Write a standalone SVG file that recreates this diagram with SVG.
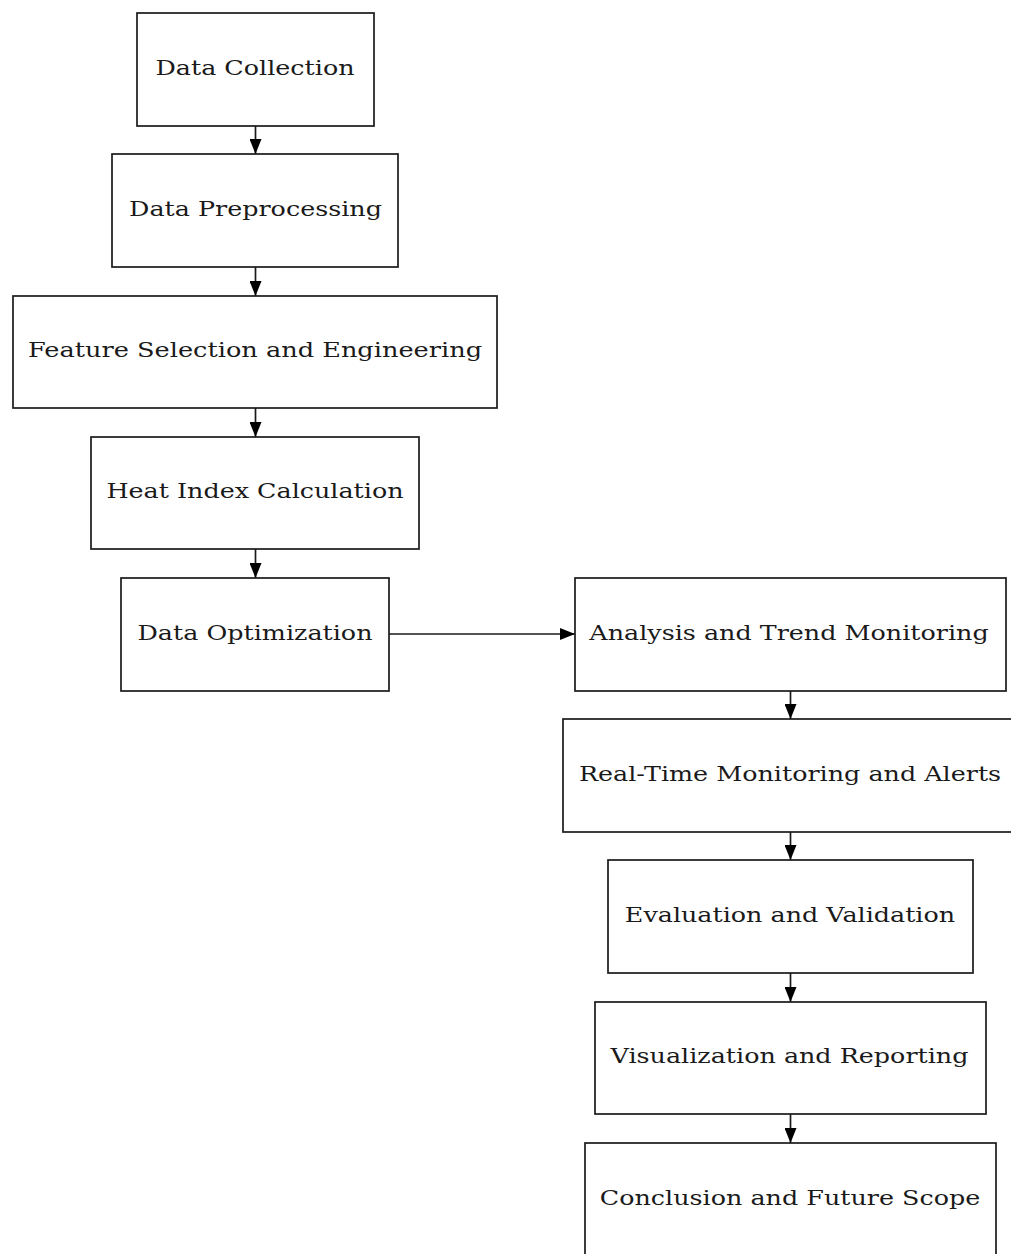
<svg xmlns="http://www.w3.org/2000/svg" width="1011" height="1254" viewBox="0 0 1011 1254">
<style>
.box{fill:#fff;stroke:#1a1a1a;stroke-width:1.7}
.lbl{font-family:"DejaVu Serif",serif;font-size:21px;fill:#1a1a1a;text-anchor:middle}
.edge{stroke:#1a1a1a;stroke-width:1.7;fill:none}
</style>
<defs>
<marker id="ah" markerWidth="15" markerHeight="12" refX="15" refY="6" orient="auto" markerUnits="userSpaceOnUse">
<path d="M0,0 L15,6 L0,12 Z" fill="#000"/>
</marker>
</defs>
<rect width="1011" height="1254" fill="#fff"/>
<g id="edges">
<line class="edge" x1="255.5" y1="126" x2="255.5" y2="154" marker-end="url(#ah)"/>
<line class="edge" x1="255.5" y1="267" x2="255.5" y2="296" marker-end="url(#ah)"/>
<line class="edge" x1="255.5" y1="408" x2="255.5" y2="437" marker-end="url(#ah)"/>
<line class="edge" x1="255.5" y1="549" x2="255.5" y2="578" marker-end="url(#ah)"/>
<line class="edge" x1="389" y1="634" x2="575" y2="634" marker-end="url(#ah)"/>
<line class="edge" x1="790.5" y1="691" x2="790.5" y2="719" marker-end="url(#ah)"/>
<line class="edge" x1="790.5" y1="832" x2="790.5" y2="860" marker-end="url(#ah)"/>
<line class="edge" x1="790.5" y1="973" x2="790.5" y2="1002" marker-end="url(#ah)"/>
<line class="edge" x1="790.5" y1="1114" x2="790.5" y2="1143" marker-end="url(#ah)"/>
</g>
<g id="n1"><rect class="box" x="137" y="13" width="237" height="113"/><text class="lbl" transform="translate(255,75) scale(1.21,1)">Data Collection</text></g>
<g id="n2"><rect class="box" x="112" y="154" width="286" height="113"/><text class="lbl" transform="translate(255.5,216) scale(1.21,1)">Data Preprocessing</text></g>
<g id="n3"><rect class="box" x="13" y="296" width="484" height="112"/><text class="lbl" transform="translate(255,357) scale(1.22,1)">Feature Selection and Engineering</text></g>
<g id="n4"><rect class="box" x="91" y="437" width="328" height="112"/><text class="lbl" transform="translate(255,498) scale(1.21,1)">Heat Index Calculation</text></g>
<g id="n5"><rect class="box" x="121" y="578" width="268" height="113"/><text class="lbl" transform="translate(255,640) scale(1.21,1)">Data Optimization</text></g>
<g id="n6"><rect class="box" x="575" y="578" width="431" height="113"/><text class="lbl" transform="translate(789,640) scale(1.21,1)">Analysis and Trend Monitoring</text></g>
<g id="n7"><rect class="box" x="563" y="719" width="456" height="113"/><text class="lbl" transform="translate(790,781) scale(1.21,1)">Real-Time Monitoring and Alerts</text></g>
<g id="n8"><rect class="box" x="608" y="860" width="365" height="113"/><text class="lbl" transform="translate(790,922) scale(1.21,1)">Evaluation and Validation</text></g>
<g id="n9"><rect class="box" x="595" y="1002" width="391" height="112"/><text class="lbl" transform="translate(789.5,1063) scale(1.21,1)">Visualization and Reporting</text></g>
<g id="n10"><rect class="box" x="585" y="1143" width="411" height="120"/><text class="lbl" transform="translate(790,1205) scale(1.21,1)">Conclusion and Future Scope</text></g>
</svg>
